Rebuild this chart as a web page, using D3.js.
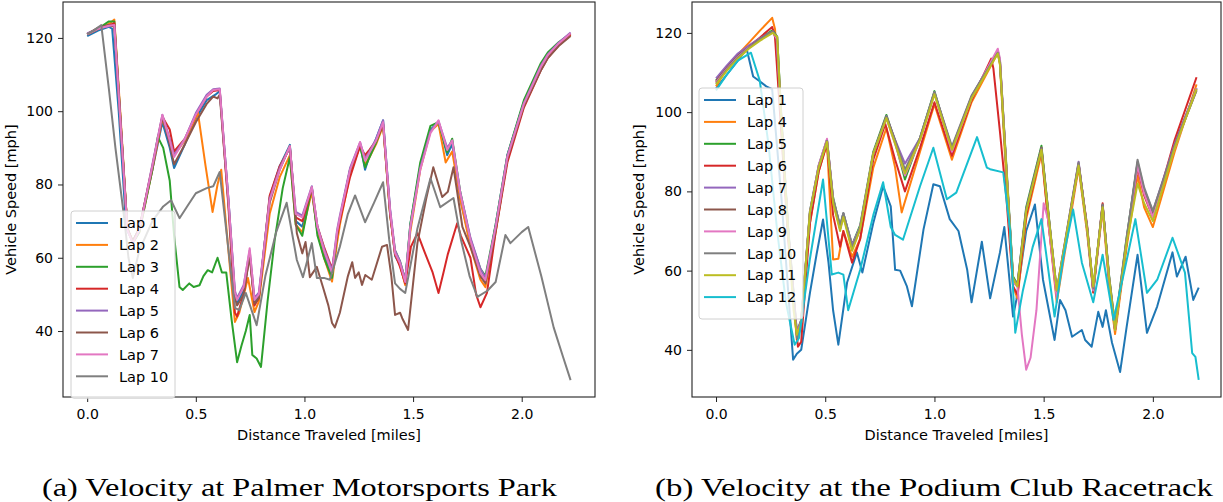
<!DOCTYPE html>
<html>
<head>
<meta charset="utf-8">
<script src="https://d3js.org/d3.v7.min.js"></script>
<style>
  body { margin: 0; background: #fff; }
  text { font-family: "DejaVu Sans", sans-serif; }
</style>
</head>
<body>
<svg width="1223" height="502"></svg>
<script>
  // ---- data: [distance (miles), speed (mph)] per lap ----
  // Palmer Motorsports Park
  var palmerLap1 = [[0,120.5],[0.05,122],[0.1,123],[0.115,122.5],[0.145,100],[0.18,68],[0.21,64.5],[0.24,68],[0.3,84],[0.346,97],[0.38,90],[0.4,84.5],[0.45,91],[0.5,98],[0.55,103],[0.59,104.5],[0.61,105.5],[0.65,76],[0.68,50],[0.69,47.5],[0.72,51],[0.748,61],[0.77,48],[0.79,49.5],[0.84,76.5],[0.886,85],[0.933,90.8],[0.96,70],[0.99,68.5],[1.034,78.5],[1.06,67],[1.09,61],[1.127,55],[1.15,66],[1.163,70.5],[1.21,84],[1.256,91],[1.279,84],[1.3,88],[1.33,92.5],[1.362,97.5],[1.394,73],[1.417,60.5],[1.44,58],[1.464,53],[1.487,69],[1.533,85],[1.58,95],[1.617,97],[1.657,88],[1.68,91],[1.717,76],[1.764,64],[1.81,55],[1.833,53.5],[1.88,69],[1.934,88],[2.01,102.5],[2.087,112],[2.12,115],[2.17,118.3],[2.225,121]];
  var palmerLap2 = [[0,121],[0.05,122.5],[0.1,123.8],[0.125,125],[0.15,102],[0.185,68],[0.21,64],[0.24,67],[0.3,84],[0.346,98],[0.38,92],[0.4,88],[0.45,92],[0.51,99.5],[0.545,85],[0.577,72.5],[0.6,80],[0.617,84],[0.65,62],[0.68,42.5],[0.7,45],[0.74,54.5],[0.77,45.2],[0.79,48],[0.84,72],[0.886,82],[0.933,88],[0.96,69],[0.99,67],[1.034,78],[1.06,67],[1.09,60],[1.127,53.5],[1.15,64],[1.163,69],[1.21,83],[1.256,90.5],[1.279,85.5],[1.3,87.5],[1.33,91],[1.362,96],[1.394,72],[1.417,61],[1.44,58],[1.464,52.5],[1.487,67],[1.533,84],[1.58,94.5],[1.617,96.5],[1.65,86],[1.68,89],[1.717,76],[1.764,63],[1.81,54],[1.833,52],[1.88,67],[1.934,87],[2.01,101.5],[2.087,111.5],[2.12,114.8],[2.17,118],[2.225,120.8]];
  var palmerLap3 = [[0,121],[0.05,122.5],[0.1,124.5],[0.125,124.5],[0.15,101],[0.185,68],[0.21,64],[0.24,67],[0.3,84],[0.325,93],[0.35,90],[0.38,81],[0.4,66],[0.425,52],[0.44,51.2],[0.47,53],[0.49,52],[0.517,52.5],[0.535,55],[0.555,56.6],[0.575,56],[0.6,60],[0.62,56],[0.64,56],[0.665,43],[0.69,31.5],[0.71,36],[0.73,40],[0.748,44.4],[0.76,33.5],[0.78,32.5],[0.8,30.2],[0.83,48],[0.863,64.8],[0.9,79],[0.933,87.5],[0.96,69],[0.99,66],[1.034,79.3],[1.06,66],[1.09,60],[1.127,54.5],[1.15,66],[1.163,70.5],[1.21,84],[1.256,90.5],[1.279,84.7],[1.3,87.5],[1.33,91.5],[1.362,96.5],[1.394,72],[1.417,62],[1.44,59],[1.464,54],[1.487,69],[1.533,86],[1.58,96],[1.617,97],[1.657,88.8],[1.68,92.5],[1.717,78],[1.764,65],[1.81,57],[1.833,55],[1.88,69],[1.934,88],[2.01,103],[2.087,113],[2.12,116],[2.17,118.8],[2.225,121.2]];
  var palmerLap4 = [[0,121],[0.05,122.5],[0.1,123.5],[0.125,124],[0.15,101],[0.185,68],[0.21,64.5],[0.24,68],[0.3,85],[0.346,98.5],[0.38,95],[0.4,89],[0.45,92.5],[0.5,99],[0.55,104],[0.58,105.5],[0.61,105.8],[0.65,74],[0.68,45],[0.69,44],[0.72,50],[0.748,61],[0.77,47],[0.79,49],[0.84,77],[0.886,85],[0.933,90],[0.96,71],[0.99,70],[1.034,79],[1.06,68.5],[1.09,63],[1.127,57],[1.15,66],[1.163,70],[1.21,82],[1.256,90.5],[1.279,88],[1.3,89.5],[1.33,92],[1.362,96.5],[1.394,72],[1.417,61],[1.44,57.5],[1.464,53],[1.49,63],[1.52,66.7],[1.55,62],[1.59,56],[1.617,50.4],[1.64,56],[1.66,61],[1.703,69.4],[1.72,66],[1.764,60],[1.79,50],[1.81,46.5],[1.84,50.4],[1.88,67],[1.934,86],[2.01,101],[2.087,111],[2.12,114.5],[2.17,118],[2.225,121]];
  var palmerLap5 = [[0,121.2],[0.05,122.6],[0.1,123.2],[0.125,123.3],[0.15,100],[0.185,67.5],[0.21,64.2],[0.24,67.5],[0.3,85.5],[0.346,99],[0.38,92.5],[0.4,88],[0.45,92.5],[0.5,99.5],[0.55,104.5],[0.58,106],[0.61,106.2],[0.65,76],[0.68,51],[0.69,49],[0.72,52.5],[0.748,62],[0.77,49],[0.79,50.5],[0.84,76],[0.886,84.5],[0.933,90.2],[0.96,72.5],[0.99,71.5],[1.034,79.5],[1.06,68.5],[1.09,62.5],[1.127,56.5],[1.15,67.5],[1.163,71.5],[1.21,84.5],[1.256,91.5],[1.279,87],[1.3,89],[1.33,92.5],[1.362,97.5],[1.394,73.5],[1.417,62],[1.44,59],[1.464,54],[1.487,68],[1.533,84.5],[1.58,94.5],[1.617,97.3],[1.657,90],[1.68,92],[1.717,78],[1.764,65.5],[1.81,57],[1.833,54.5],[1.88,68.5],[1.934,87.8],[2.01,102.2],[2.087,112.3],[2.12,115.5],[2.17,118.7],[2.225,121.5]];
  var palmerLap6 = [[0,121],[0.05,122.8],[0.1,123.5],[0.125,123],[0.15,100],[0.185,68],[0.21,64.5],[0.24,68],[0.3,84.5],[0.346,98.5],[0.38,91],[0.4,85.5],[0.45,91],[0.5,97],[0.55,102],[0.58,104],[0.6,103.5],[0.61,104.5],[0.65,75],[0.68,49],[0.69,47],[0.72,50],[0.748,60.5],[0.77,47.5],[0.79,49],[0.84,75],[0.886,84],[0.933,90.5],[0.965,66.7],[0.99,61.2],[1.005,64.3],[1.025,54.7],[1.057,57.5],[1.085,52],[1.11,47],[1.127,42.2],[1.14,41],[1.163,45],[1.2,55],[1.22,58.8],[1.233,54.5],[1.25,56],[1.265,52.6],[1.28,55.3],[1.31,54],[1.357,63],[1.38,63.5],[1.4,55],[1.417,44.4],[1.44,45],[1.45,43.5],[1.477,40.3],[1.5,53],[1.52,64],[1.56,76],[1.593,84.7],[1.634,76.6],[1.66,78],[1.686,84.7],[1.727,68.4],[1.764,63],[1.81,55],[1.833,53],[1.88,67.5],[1.934,87],[2.01,101.5],[2.087,111],[2.12,114.5],[2.17,117.8],[2.225,120.5]];
  var palmerLap7 = [[0,121],[0.05,122.5],[0.1,123.3],[0.125,123.5],[0.15,100],[0.185,67.6],[0.21,64],[0.24,67.6],[0.3,85],[0.346,99],[0.38,92],[0.4,87.5],[0.45,92.5],[0.5,99],[0.55,104],[0.58,105.8],[0.61,106],[0.65,76],[0.68,50.4],[0.69,48.5],[0.72,52],[0.748,62.6],[0.77,48.5],[0.79,50],[0.84,75.7],[0.886,84],[0.933,90.5],[0.96,72],[0.99,71],[1.034,79.3],[1.06,68.4],[1.09,62],[1.127,55.8],[1.15,67],[1.163,71],[1.21,84],[1.256,91.6],[1.279,86.5],[1.3,88.8],[1.33,92],[1.362,97],[1.394,73],[1.417,61.3],[1.44,58.5],[1.464,53.4],[1.487,68.4],[1.533,84],[1.58,94],[1.617,97.5],[1.657,89.4],[1.68,92],[1.717,77.6],[1.764,64.8],[1.81,55.8],[1.833,53.9],[1.88,68.4],[1.934,87.5],[2.01,102],[2.087,112],[2.12,115.3],[2.17,118.5],[2.225,121.3]];
  var palmerLap10 = [[0,121],[0.03,122],[0.065,123.5],[0.1,106],[0.13,90],[0.17,71],[0.19,60],[0.21,54.5],[0.24,62],[0.3,70],[0.35,74],[0.386,75.7],[0.425,70.8],[0.46,74],[0.5,77.6],[0.55,79],[0.58,79.5],[0.61,83.4],[0.645,65],[0.68,46.3],[0.7,45.7],[0.73,50.4],[0.78,41.6],[0.82,55],[0.87,67],[0.918,75],[0.965,59.4],[0.993,54.7],[1.034,64],[1.057,54.5],[1.09,54.5],[1.117,54],[1.163,63],[1.2,72],[1.233,77],[1.279,69.7],[1.32,75],[1.362,80.6],[1.39,65],[1.417,53],[1.44,51.5],[1.464,50.4],[1.52,68],[1.58,81.7],[1.625,73.8],[1.686,76.3],[1.72,65],[1.76,55],[1.796,49.3],[1.842,51],[1.88,53.4],[1.925,66.2],[1.948,64],[2.0,67],[2.03,68.4],[2.09,55],[2.147,41],[2.19,33],[2.225,26.6]];

  // Podium Club Racetrack
  var podiumLap1 = [[0,106],[0.05,109.5],[0.1,113],[0.14,116],[0.17,109],[0.2,107.8],[0.23,106.5],[0.257,105.8],[0.3,78],[0.33,55],[0.353,37.5],[0.37,39],[0.39,40],[0.43,54.4],[0.46,64],[0.49,72.9],[0.515,62],[0.536,50],[0.56,41.3],[0.6,57],[0.645,64.6],[0.67,59.5],[0.72,72],[0.765,81.3],[0.8,76.2],[0.82,60.2],[0.843,60],[0.874,56],[0.897,51],[0.95,70.4],[0.995,81.8],[1.025,81.3],[1.07,73],[1.11,70],[1.15,60.2],[1.17,52],[1.217,67.3],[1.255,53],[1.3,64.6],[1.32,71],[1.36,48.4],[1.375,52.6],[1.42,70],[1.46,76.7],[1.497,57.7],[1.55,42.5],[1.575,52.6],[1.6,50],[1.63,43.3],[1.675,45],[1.69,42.5],[1.72,40.8],[1.75,49.6],[1.77,45.8],[1.785,50],[1.813,41.8],[1.85,34.4],[1.88,45.8],[1.93,64],[1.973,44.3],[2.02,51],[2.09,64.6],[2.11,58.5],[2.15,63.5],[2.185,52.6],[2.21,55.7]];
  var podiumLap4 = [[0,106.5],[0.05,111],[0.1,114.5],[0.15,117.5],[0.2,120.5],[0.257,123.8],[0.27,121],[0.3,97],[0.33,70],[0.37,42.5],[0.39,46],[0.43,72],[0.47,85],[0.508,92],[0.536,62.8],[0.56,63],[0.583,70],[0.623,63.5],[0.66,68],[0.72,86],[0.78,96],[0.82,86],[0.85,74.7],[0.934,90],[1.0,102],[1.08,88],[1.17,102.5],[1.29,115],[1.3,112],[1.33,82],[1.36,56],[1.38,53],[1.42,73],[1.49,89.5],[1.52,73],[1.56,52],[1.66,86],[1.7,69],[1.727,54.5],[1.77,75.5],[1.8,56],[1.827,44],[1.88,66],[1.93,84],[1.96,76],[2.0,71],[2.1,90],[2.2,107]];
  var podiumLap5 = [[0,108],[0.05,111.3],[0.1,114.3],[0.15,116.5],[0.2,118.5],[0.26,120.7],[0.28,119],[0.3,98],[0.33,71],[0.37,44.5],[0.39,47.5],[0.43,75],[0.47,86.5],[0.508,93],[0.536,78.5],[0.568,71],[0.583,74.5],[0.623,66.5],[0.66,71.5],[0.72,90],[0.78,99.3],[0.82,92.5],[0.865,83],[0.934,93.5],[1.0,105.3],[1.08,90],[1.17,103.8],[1.29,115.5],[1.3,113],[1.33,86],[1.36,58.5],[1.38,56.5],[1.42,76],[1.49,91.5],[1.52,75.5],[1.56,54],[1.66,87],[1.7,70.5],[1.727,55],[1.77,76.5],[1.8,58.5],[1.827,46],[1.88,68.5],[1.93,87],[1.96,80],[2.0,74],[2.1,92],[2.2,106]];
  var podiumLap6 = [[0,107.5],[0.05,110.8],[0.1,114],[0.15,116.5],[0.2,118.8],[0.257,121.5],[0.27,119],[0.3,94],[0.33,68],[0.375,40.8],[0.39,42],[0.43,72],[0.47,85],[0.508,92],[0.536,74],[0.568,66],[0.583,70],[0.623,62],[0.66,68],[0.72,88],[0.775,97],[0.82,88],[0.865,80],[0.934,91],[1.0,102.5],[1.08,89],[1.17,103],[1.26,113.5],[1.27,111],[1.3,95],[1.33,78],[1.36,56],[1.38,54],[1.42,74],[1.49,90.5],[1.52,73],[1.56,53.5],[1.66,86.8],[1.7,71],[1.727,54.5],[1.77,77],[1.8,57],[1.827,45],[1.88,67],[1.93,86],[1.96,79],[2.0,73.5],[2.1,93],[2.2,108.8]];
  var podiumLap7 = [[0,108.5],[0.05,111.8],[0.1,114.8],[0.15,116.8],[0.2,118.6],[0.26,120.4],[0.278,118.5],[0.3,97.5],[0.33,70.5],[0.37,44.5],[0.39,47.5],[0.43,75],[0.47,86.5],[0.508,93],[0.536,78],[0.568,71],[0.583,74.5],[0.623,66.5],[0.66,71],[0.72,89.5],[0.78,99],[0.82,93],[0.865,87],[0.934,93.5],[1.0,105],[1.08,91],[1.17,104],[1.29,115.5],[1.3,113],[1.33,85.5],[1.36,58],[1.38,56.5],[1.42,75.5],[1.49,91],[1.52,75],[1.56,55],[1.66,87.5],[1.7,70],[1.727,55.5],[1.77,76.5],[1.8,58],[1.827,45.5],[1.88,68],[1.93,87.5],[1.96,80.5],[2.0,75],[2.1,92],[2.2,106]];
  var podiumLap8 = [[0,107.8],[0.05,111.2],[0.1,114.2],[0.15,116.4],[0.2,118.4],[0.26,120.3],[0.278,118.5],[0.3,97],[0.33,70],[0.37,44],[0.39,47],[0.43,74.5],[0.47,86],[0.508,92.8],[0.536,77.5],[0.568,70.5],[0.583,74],[0.623,65.5],[0.66,70.5],[0.72,89.5],[0.78,98.8],[0.82,92.8],[0.865,85],[0.934,93.2],[1.0,104.8],[1.08,90.8],[1.17,103.8],[1.29,115.2],[1.3,112.5],[1.33,85],[1.36,57.5],[1.38,56],[1.42,75],[1.49,91],[1.52,75],[1.56,54.5],[1.66,87],[1.7,70],[1.727,55],[1.77,76.5],[1.8,58],[1.827,45],[1.88,67.5],[1.93,87.2],[1.96,80],[2.0,74.5],[2.1,91.5],[2.2,105.5]];
  var podiumLap9 = [[0,107.5],[0.05,111],[0.1,114],[0.15,116.3],[0.2,118.2],[0.26,120.2],[0.278,118.5],[0.3,97],[0.33,70],[0.37,44],[0.39,47],[0.43,74.5],[0.47,86.5],[0.508,93.3],[0.536,78],[0.568,70.5],[0.583,74],[0.623,66],[0.66,71],[0.72,89.5],[0.78,98.5],[0.82,92],[0.865,84],[0.934,93],[1.0,104.8],[1.08,90],[1.17,103.5],[1.29,116],[1.3,113.5],[1.33,85],[1.36,57],[1.38,56],[1.4,44],[1.42,35],[1.44,38],[1.467,50],[1.5,77],[1.52,73],[1.56,53],[1.66,87],[1.7,70],[1.727,55],[1.77,76],[1.8,57.5],[1.827,45],[1.88,67.5],[1.93,86.5],[1.96,79.5],[2.0,73.5],[2.1,91],[2.2,106]];
  var podiumLap10 = [[0,107.2],[0.05,110.8],[0.1,113.8],[0.15,116.2],[0.2,118.4],[0.26,120.4],[0.28,119],[0.3,97.5],[0.33,70.5],[0.37,43],[0.39,46.5],[0.43,74.5],[0.47,86],[0.508,92.8],[0.536,78],[0.568,71.5],[0.583,74.5],[0.623,66],[0.66,71],[0.72,89.5],[0.78,98.8],[0.82,92.8],[0.865,85.5],[0.934,93.5],[1.0,105],[1.08,91.3],[1.17,104.2],[1.29,115],[1.3,112.5],[1.33,85],[1.36,58],[1.38,56.5],[1.42,75],[1.49,90.8],[1.52,75.5],[1.56,55],[1.66,87.3],[1.7,70.5],[1.727,55.5],[1.77,76.7],[1.8,58.5],[1.827,46],[1.88,68],[1.93,88],[1.96,81],[2.0,75],[2.1,91.5],[2.2,105.5]];
  var podiumLap11 = [[0,107],[0.05,110.5],[0.1,113.5],[0.15,116],[0.2,118],[0.26,120],[0.28,119],[0.3,97],[0.33,70],[0.355,50],[0.37,43.8],[0.39,47],[0.43,74.7],[0.47,86],[0.508,92.5],[0.536,77],[0.568,70],[0.583,73.5],[0.623,65],[0.66,70.5],[0.72,89.5],[0.78,98.5],[0.82,92],[0.865,84.5],[0.934,93],[1.0,104.5],[1.08,90.5],[1.17,103.5],[1.29,114.8],[1.3,112],[1.33,85],[1.36,58],[1.38,56],[1.42,75],[1.49,90.5],[1.52,75],[1.56,55],[1.66,86.5],[1.7,70],[1.727,56],[1.77,76],[1.8,58],[1.827,45],[1.88,67],[1.93,82],[1.96,77],[2.0,72.5],[2.1,91],[2.2,105.8]];
  var podiumLap12 = [[0,105.5],[0.05,109.5],[0.1,113],[0.16,115],[0.2,108],[0.24,92],[0.28,70],[0.32,52],[0.36,41.3],[0.38,43],[0.43,63],[0.49,83],[0.53,59],[0.56,59.5],[0.583,59],[0.605,50],[0.66,60.2],[0.72,74],[0.765,82.3],[0.8,71],[0.82,69],[0.856,67.8],[0.934,81.3],[0.995,91],[1.057,78],[1.1,79.7],[1.195,93.7],[1.24,86],[1.255,85.6],[1.315,84.8],[1.346,70.4],[1.37,44.3],[1.405,55],[1.45,66],[1.49,73],[1.515,62.8],[1.55,48.4],[1.59,63.3],[1.635,75.4],[1.675,62],[1.727,52],[1.77,64],[1.82,47.6],[1.87,60],[1.92,73],[1.973,54.4],[2.02,57.7],[2.09,68.3],[2.147,59.5],[2.18,39.2],[2.195,38.2],[2.21,32.4]];

  var palmerNames = ["Lap 1", "Lap 2", "Lap 3", "Lap 4", "Lap 5", "Lap 6", "Lap 7", "Lap 10"];
  var palmerSeries = [palmerLap1, palmerLap2, palmerLap3, palmerLap4, palmerLap5, palmerLap6, palmerLap7, palmerLap10];
  var palmerColors = ["#1f77b4", "#ff7f0e", "#2ca02c", "#d62728", "#9467bd", "#8c564b", "#e377c2", "#7f7f7f"];

  var podiumNames = ["Lap 1", "Lap 4", "Lap 5", "Lap 6", "Lap 7", "Lap 8", "Lap 9", "Lap 10", "Lap 11", "Lap 12"];
  var podiumSeries = [podiumLap1, podiumLap4, podiumLap5, podiumLap6, podiumLap7, podiumLap8, podiumLap9, podiumLap10, podiumLap11, podiumLap12];
  var podiumColors = ["#1f77b4", "#ff7f0e", "#2ca02c", "#d62728", "#9467bd", "#8c564b", "#e377c2", "#7f7f7f", "#bcbd22", "#17becf"];

  var xTicks = [0, 0.5, 1.0, 1.5, 2.0];
  var yTicks = [40, 60, 80, 100, 120];
  var captions = ["(a) Velocity at Palmer Motorsports Park", "(b) Velocity at the Podium Club Racetrack"];

  var svg = d3.select("svg");

  function drawPanel(p) {
    var x = d3.scaleLinear().domain(p.xDomain).range([p.left, p.right]);
    var y = d3.scaleLinear().domain(p.yDomain).range([p.bottom, p.top]);
    var g = svg.append("g");

    var line = d3.line().x(function(d) { return x(d[0]); }).y(function(d) { return y(d[1]); });

    g.append("g")
      .selectAll("path")
      .data(p.series)
      .enter()
      .append("path")
      .attr("d", line)
      .style("fill", "none")
      .style("stroke", function(d, i) { return p.colors[i]; })
      .style("stroke-width", 2)
      .style("stroke-linejoin", "round");

    // frame
    g.append("rect")
      .attr("x", p.left).attr("y", p.top)
      .attr("width", p.right - p.left).attr("height", p.bottom - p.top)
      .style("fill", "none").style("stroke", "#222").style("stroke-width", 1.1);

    var xAxis = g.append("g").attr("transform", "translate(0," + p.bottom + ")")
      .call(d3.axisBottom(x).tickValues(xTicks).tickFormat(d3.format(".1f")).tickSize(5).tickPadding(7).tickSizeOuter(0));
    var yAxis = g.append("g").attr("transform", "translate(" + p.left + ",0)")
      .call(d3.axisLeft(y).tickValues(yTicks).tickSize(5).tickPadding(5).tickSizeOuter(0));
    [xAxis, yAxis].forEach(function(a) {
      a.select(".domain").remove();
      a.selectAll("text").style("font-size", "14px").style("fill", "#000").style("font-family", "DejaVu Sans");
      a.selectAll("line").style("stroke", "#222");
    });

    g.append("text")
      .attr("x", (p.left + p.right) / 2)
      .attr("y", 440)
      .attr("text-anchor", "middle")
      .style("font-size", "14.5px")
      .text("Distance Traveled [miles]");

    g.append("text")
      .attr("text-anchor", "middle")
      .attr("transform", "translate(" + p.ylabelX + "," + (p.top + p.bottom) / 2 + ")rotate(-90)")
      .style("font-size", "14.5px")
      .text("Vehicle Speed [mph]");

    // legend
    var lg = g.append("g").attr("transform", "translate(" + p.legX + "," + p.legY + ")");
    lg.append("rect")
      .attr("width", 104).attr("height", 12 + p.names.length * 21.9)
      .attr("rx", 3)
      .style("fill", "#fff").style("fill-opacity", 0.8)
      .style("stroke", "#d0d0d0").style("stroke-width", 1);
    p.names.forEach(function(name, i) {
      var yy = 12 + i * 21.9;
      lg.append("line")
        .attr("x1", 5).attr("x2", 37).attr("y1", yy).attr("y2", yy)
        .style("stroke", p.colors[i]).style("stroke-width", 2);
      lg.append("text")
        .attr("x", 48).attr("y", yy + 5.2)
        .style("font-size", "14.5px")
        .text(name);
    });

    svg.append("text")
      .attr("x", p.capX)
      .attr("y", 496)
      .attr("textLength", p.capW)
      .attr("lengthAdjust", "spacingAndGlyphs")
      .style("font-family", "'Liberation Serif', 'DejaVu Serif', serif")
      .style("font-size", "26px")
      .text(p.caption);
  }

  drawPanel({
    left: 63, right: 595, top: 2, bottom: 397,
    xDomain: [-0.1113, 2.3373], yDomain: [22.0, 129.8],
    series: palmerSeries, colors: palmerColors, names: palmerNames,
    legX: 71, legY: 211, ylabelX: 16,
    caption: captions[0], capX: 42, capW: 515
  });

  drawPanel({
    left: 692, right: 1221, top: 2, bottom: 397,
    xDomain: [-0.11, 2.312], yDomain: [28.1, 127.8],
    series: podiumSeries, colors: podiumColors, names: podiumNames,
    legX: 699, legY: 88, ylabelX: 644,
    caption: captions[1], capX: 655, capW: 558
  });
</script>
</body>
</html>
